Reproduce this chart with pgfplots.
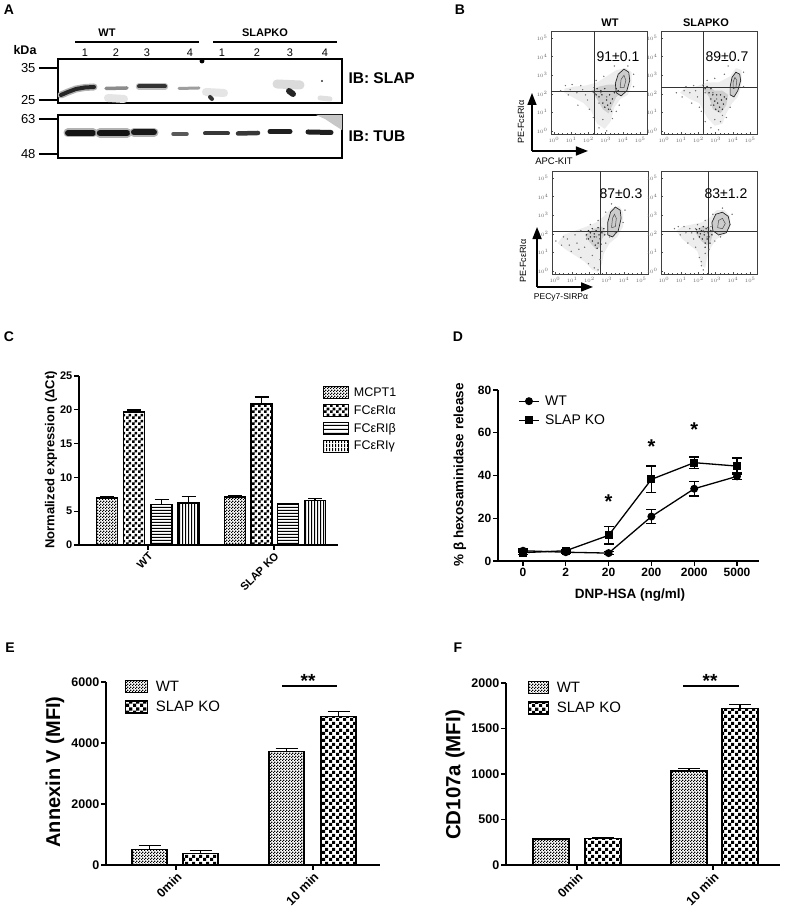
\documentclass[border=0pt]{standalone}
\usepackage{fontspec}
\setmainfont{Liberation Sans}
\usepackage{pgfplots}
\pgfplotsset{compat=1.18}
\usetikzlibrary{patterns,arrows.meta}
\newcommand{\fs}[1]{\fontsize{#1}{#1}\selectfont}

\pgfdeclarepatternformonly{finecheck}{\pgfpointorigin}{\pgfpoint{3pt}{3pt}}{\pgfpoint{3pt}{3pt}}{%
\pgfpathrectangle{\pgfpointorigin}{\pgfpoint{1.5pt}{1.5pt}}%
\pgfpathrectangle{\pgfpoint{1.5pt}{1.5pt}}{\pgfpoint{1.5pt}{1.5pt}}%
\pgfusepath{fill}}
\pgfdeclarepatternformonly{coarsecheck}{\pgfpointorigin}{\pgfpoint{6pt}{6pt}}{\pgfpoint{6pt}{6pt}}{%
\pgfpathrectangle{\pgfpointorigin}{\pgfpoint{3pt}{3pt}}%
\pgfpathrectangle{\pgfpoint{3pt}{3pt}}{\pgfpoint{3pt}{3pt}}%
\pgfusepath{fill}}
\pgfdeclarepatternformonly{bigcheck}{\pgfpointorigin}{\pgfpoint{7pt}{7pt}}{\pgfpoint{7pt}{7pt}}{%
\pgfpathrectangle{\pgfpointorigin}{\pgfpoint{3.5pt}{3.5pt}}%
\pgfpathrectangle{\pgfpoint{3.5pt}{3.5pt}}{\pgfpoint{3.5pt}{3.5pt}}%
\pgfusepath{fill}}
\pgfdeclarepatternformonly{hstripes}{\pgfpointorigin}{\pgfpoint{3.4pt}{3.4pt}}{\pgfpoint{3.4pt}{3.4pt}}{%
\pgfpathrectangle{\pgfpointorigin}{\pgfpoint{3.4pt}{1.3pt}}\pgfusepath{fill}}
\pgfdeclarepatternformonly{vstripes}{\pgfpointorigin}{\pgfpoint{3.4pt}{3.4pt}}{\pgfpoint{3.4pt}{3.4pt}}{%
\pgfpathrectangle{\pgfpointorigin}{\pgfpoint{1.3pt}{3.4pt}}\pgfusepath{fill}}

\pgfplotsset{
  barax/.style={scale only axis, anchor=south west,
    axis x line=bottom, axis y line=left,
    axis line style={-, line width=1.4pt, black},
    tick align=outside, major tick length=5pt,
    tick style={black, line width=1.3pt},
    ymin=0, clip=false,
    tick label style={font=\bfseries\fs{11.5}},
    yticklabel style={inner sep=1.5pt},
    /pgf/number format/assume math mode=true,
    /pgf/number format/1000 sep={},
    scaled y ticks=false,
    legend cell align=left,
  },
  rotlab/.style={xticklabel style={rotate=45, anchor=north east, inner sep=1pt}},
  barlegend/.style={legend image code/.code={%
      \draw[##1, line width=1.2pt] (0pt,-6pt) rectangle (#1pt,6pt);}},
  bars/.style={draw=black, line width=1.5pt, pattern=#1, pattern color=black, bar shift=0pt,
    /pgfplots/error bars/y dir=plus, /pgfplots/error bars/y explicit,
    /pgfplots/error bars/error bar style={line width=1.3pt, black},
    /pgfplots/error bars/error mark options={rotate=90, mark size=7pt, line width=1.3pt, black}},
  barsE/.style={bars=#1,
    /pgfplots/error bars/error mark options={rotate=90, mark size=11pt, line width=1.3pt, black}},
  flow/.style={scale only axis, anchor=south west, width=96pt, height=103pt,
    xmin=0, xmax=100, ymin=0, ymax=100, clip=false,
    axis line style={black!75, line width=0.8pt},
    xtick={3,21,39,57,75,93}, ytick={3,21,39,57,75,93},
    xticklabels={$10^{0}$,$10^{1}$,$10^{2}$,$10^{3}$,$10^{4}$,$10^{5}$},
    yticklabels={$10^{0}$,$10^{1}$,$10^{2}$,$10^{3}$,$10^{4}$,$10^{5}$},
    xtick pos=left, ytick pos=left,
    tick label style={font=\fs{4}, text=black!60},
    tick align=inside, major tick length=2pt, minor tick num=3, minor tick length=1pt,
    tick style={black!70, line width=0.5pt}},
  cloud/.style={fill=gray!14, draw=none},
  dense/.style={fill=gray!38, draw=none},
  dots/.style={only marks, mark=*, mark size=0.45pt, black!55},
  ddots/.style={only marks, mark=*, mark size=0.5pt, black!80},
  cont/.style={fill=gray!40, draw=black!85, line width=0.7pt},
  inner/.style={draw=black!70, line width=0.5pt},
  quad/.style={black!80, line width=0.9pt},
  farrow/.style={black, line width=1.6pt, -{Triangle[width=9pt,length=12pt]}},
  band/.style={line cap=round, line width=#1},
}

\begin{document}
\begin{tikzpicture}
\useasboundingbox (0,0) rectangle (787pt,917pt);
\fill[white] (0,0) rectangle (787pt,917pt);

% ---------------- panel letters
\node[font=\bfseries\fs{14}] at (9pt,907pt) {A};
\node[font=\bfseries\fs{14}] at (460pt,907pt) {B};
\node[font=\bfseries\fs{14}] at (9pt,580pt) {C};
\node[font=\bfseries\fs{14}] at (458pt,580pt) {D};
\node[font=\bfseries\fs{14}] at (10pt,269pt) {E};
\node[font=\bfseries\fs{14}] at (458pt,269pt) {F};

% ---------------- A: western blot
\node[font=\bfseries\fs{11}] at (107pt,884pt) {WT};
\node[font=\bfseries\fs{11}] at (265pt,884pt) {SLAPKO};
\node[font=\bfseries\fs{12.5}] at (25pt,867pt) {kDa};
\foreach \x/\l in {85/1,116/2,147/3,190/4,222/1,257/2,290/3,325/4}
  \node[font=\fs{11}] at (\x pt,864pt) {\l};
\node[font=\bfseries\fs{15.5}, anchor=west] at (345pt,839pt) {IB: SLAP};
\node[font=\bfseries\fs{15.5}, anchor=west] at (345pt,781pt) {IB: TUB};

\begin{axis}[at={(58pt,814pt)}, anchor=south west, scale only axis,
  width=284pt, height=44pt, xmin=58, xmax=342, ymin=-103, ymax=-59,
  axis line style={line width=2.6pt}, xtick=\empty,
  ytick={-100,-68}, yticklabels={25,35}, ytick pos=left,
  tick align=outside, major tick length=19pt,
  tick style={black, line width=1.3pt},
  tick label style={font=\fs{13}}, clip=false]
\addplot[black, line width=1.2pt] coordinates {(75,-42) (199,-42)};
\addplot[black, line width=1.2pt] coordinates {(213,-42) (337,-42)};
% faint smears
\addplot[band=8pt, black!10] coordinates {(108,-98) (124,-99)};
\addplot[band=8pt, black!10] coordinates {(206,-92) (224,-93)};
\addplot[band=9pt, black!14] coordinates {(277,-84) (300,-85)};
\addplot[band=5pt, black!12] coordinates {(320,-98) (330,-99)};
% SLAP bands
\addplot[band=7pt, black!30] coordinates {(61,-95) (68,-92) (76,-89) (85,-87.5) (94,-87)};
\addplot[band=4pt, black!85] coordinates {(61,-95) (68,-92) (76,-89) (85,-87.5) (94,-87)};
\addplot[band=3.5pt, black!45] coordinates {(106,-88.5) (127,-88)};
\addplot[band=6.5pt, black!25] coordinates {(139,-86.5) (165,-86.5)};
\addplot[band=4pt, black!80] coordinates {(139,-86.5) (165,-86.5)};
\addplot[band=3pt, black!38] coordinates {(179,-88.5) (199,-88)};
\addplot[band=4pt, black!80] coordinates {(210,-97) (212,-99)};
\addplot[band=6pt, black!85] coordinates {(289,-91) (293,-94)};
\addplot[only marks, mark=*, mark size=0.8pt, black!70] coordinates {(322,-81)};
\addplot[only marks, mark=*, mark size=2.2pt, black] coordinates {(202,-61)};
\end{axis}

\begin{axis}[at={(58pt,759pt)}, anchor=south west, scale only axis,
  width=284pt, height=43pt, xmin=58, xmax=342, ymin=-158, ymax=-115,
  axis line style={line width=2.6pt}, xtick=\empty,
  ytick={-154,-119}, yticklabels={48,63}, ytick pos=left,
  tick align=outside, major tick length=19pt,
  tick style={black, line width=1.3pt},
  tick label style={font=\fs{13}}, clip=false]
\addplot[fill=black!22, draw=none] coordinates {(316,-115) (342,-115) (342,-130) (334,-125) (325,-119)};
\addplot[band=9pt, black!30] coordinates {(68,-133) (93,-133)};
\addplot[band=6pt, black!92] coordinates {(68,-133) (93,-133)};
\addplot[band=9.5pt, black!30] coordinates {(100,-133) (127,-133)};
\addplot[band=6.5pt, black!92] coordinates {(100,-133) (127,-133)};
\addplot[band=9pt, black!30] coordinates {(134,-132.5) (154,-132.5)};
\addplot[band=6pt, black!90] coordinates {(134,-132.5) (154,-132.5)};
\addplot[band=3.5pt, black!65] coordinates {(173,-134) (187,-134)};
\addplot[band=4pt, black!78] coordinates {(205,-133.5) (228,-133.5)};
\addplot[band=4.5pt, black!78] coordinates {(238,-133.5) (258,-133)};
\addplot[band=5pt, black!88] coordinates {(270,-131.5) (290,-131.5)};
\addplot[band=5pt, black!88] coordinates {(308,-132) (331,-132.5)};
\end{axis}

% ---------------- B: flow cytometry
\node[font=\bfseries\fs{11}] at (610pt,894pt) {WT};
\node[font=\bfseries\fs{11}] at (706pt,894pt) {SLAPKO};

% top-left
\begin{axis}[flow, at={(551pt,783pt)}]
\addplot[cloud] coordinates {(14,40) (24,35) (34,30) (42,22) (48,10) (56,5) (62,12) (66,26) (72,34) (80,38) (84,48) (84,60) (78,64) (68,62) (58,56) (48,50) (36,47) (24,46) (14,44)};
\addplot[dense] coordinates {(42,42) (48,34) (54,24) (60,20) (64,28) (68,36) (74,40) (70,48) (60,48) (50,46)};
\addplot[dots] coordinates {(10,42) (18,38) (22,48) (28,28) (33,43) (38,33) (44,16) (50,6) (54,14) (58,3) (62,24) (27,40) (31,47) (47,52) (55,56) (66,66) (86,46) (86,58) (40,24) (58,36) (50,30) (71,28) (46,39) (20,43) (15,47) (36,38) (64,15) (68,22) (52,40) (80,66)};
\addplot[ddots] coordinates {(44,41) (47,38) (50,36) (52,42) (54,30) (56,26) (58,33) (60,24) (61,38) (62,30) (64,34) (66,40) (68,44) (56,44) (48,44) (59,28) (63,22) (53,38) (45,45) (70,42)};
\addplot[cont] coordinates {(68,40) (73,37) (79,42) (82,52) (81,60) (76,63) (70,58) (67,49) (68,40)};
\addplot[inner] coordinates {(72,45) (76,45) (78,52) (76,57) (73,53) (72,45)};
\addplot[quad] coordinates {(44.8,0) (44.8,100)};
\addplot[quad] coordinates {(0,41.7) (100,41.7)};
\addplot[farrow] coordinates {(-19.8,-16.5) (-19.8,39.8)};
\addplot[farrow] coordinates {(-19.8,-16.5) (38.5,-16.5)};
\end{axis}
\node[font=\fs{14}] at (618pt,860pt) {91±0.1};
\node[font=\fs{9}, rotate=90] at (521pt,795pt) {PE-FcεRIα};
\node[font=\fs{9.5}] at (554pt,756pt) {APC-KIT};

% top-right
\begin{axis}[flow, at={(661pt,783pt)}]
\addplot[cloud] coordinates {(20,40) (30,34) (40,30) (48,16) (56,8) (64,10) (68,20) (74,30) (80,36) (84,48) (84,62) (78,64) (72,56) (60,50) (48,50) (36,46) (24,44)};
\addplot[dense] coordinates {(44,44) (50,36) (54,24) (62,20) (68,28) (70,38) (64,42) (56,42) (50,46)};
\addplot[dots] coordinates {(16,40) (22,36) (26,46) (32,30) (36,42) (40,26) (46,12) (52,6) (56,14) (60,4) (64,18) (30,40) (34,47) (48,52) (56,54) (70,66) (86,46) (86,60) (42,22) (58,34) (52,28) (72,26) (46,40) (24,42) (62,12) (68,16) (54,40) (66,58) (44,48) (38,36)};
\addplot[ddots] coordinates {(46,44) (50,40) (52,34) (55,28) (57,24) (59,30) (61,26) (63,33) (65,29) (66,36) (58,38) (54,38) (62,38) (48,46) (44,47) (60,22) (64,24) (56,32) (68,34) (52,44)};
\addplot[cont] coordinates {(72,38) (76,36) (80,42) (83,52) (82,58) (78,60) (74,55) (72,46) (72,38)};
\addplot[inner] coordinates {(75,44) (78,45) (79,52) (77,55) (75,50) (75,44)};
\addplot[quad] coordinates {(43.8,0) (43.8,100)};
\addplot[quad] coordinates {(0,44.7) (100,44.7)};
\end{axis}
\node[font=\fs{14}] at (727pt,860pt) {89±0.7};

% bottom-left
\begin{axis}[flow, at={(552pt,643pt)}]
\addplot[cloud] coordinates {(6,30) (14,24) (24,18) (34,12) (42,4) (48,2) (52,10) (54,20) (60,30) (68,36) (74,46) (74,60) (70,66) (62,64) (54,56) (46,50) (36,46) (24,42) (12,38)};
\addplot[dense] coordinates {(34,38) (40,30) (46,24) (50,26) (52,34) (56,40) (52,46) (44,44)};
\addplot[dots] coordinates {(4,32) (10,28) (16,34) (20,22) (26,30) (30,16) (34,26) (38,10) (42,18) (44,6) (48,4) (50,14) (24,38) (30,42) (40,48) (48,52) (56,60) (62,68) (74,50) (76,62) (36,34) (56,30) (60,36) (46,36) (18,28) (12,36) (40,40) (52,22) (28,24) (66,40)};
\addplot[ddots] coordinates {(36,38) (38,34) (40,40) (42,32) (44,36) (45,28) (46,42) (48,30) (49,38) (50,34) (52,40) (54,44) (42,44) (38,42) (47,25) (51,29) (55,38) (44,39) (40,36) (48,45)};
\addplot[cont] coordinates {(58,38) (63,36) (69,42) (72,54) (71,62) (66,65) (61,60) (58,50) (58,38)};
\addplot[inner] coordinates {(62,45) (66,46) (67,54) (65,58) (63,54) (62,45)};
\addplot[quad] coordinates {(50,0) (50,100)};
\addplot[quad] coordinates {(0,41.7) (100,41.7)};
\addplot[farrow] coordinates {(-15.6,-12.6) (-15.6,45.6)};
\addplot[farrow] coordinates {(-15.6,-12.6) (42.7,-12.6)};
\end{axis}
\node[font=\fs{14}] at (621pt,723pt) {87±0.3};
\node[font=\fs{9}, rotate=90] at (523pt,656pt) {PE-FcεRIα};
\node[font=\fs{8.5}] at (561pt,620pt) {PECy7-SIRPα};

% bottom-right
\begin{axis}[flow, at={(661pt,643pt)}]
\addplot[cloud] coordinates {(16,42) (22,34) (30,28) (38,22) (42,8) (46,6) (48,16) (52,26) (58,34) (66,38) (72,44) (72,56) (66,62) (58,62) (50,54) (42,50) (32,48) (22,46)};
\addplot[dense] coordinates {(36,40) (42,32) (48,28) (52,32) (54,40) (50,46) (42,46)};
\addplot[dots] coordinates {(14,44) (20,38) (24,46) (28,30) (32,40) (36,26) (40,16) (42,8) (42,12) (44,4) (46,20) (30,44) (38,48) (46,52) (54,58) (64,64) (72,48) (74,58) (40,36) (56,32) (60,38) (48,36) (26,40) (18,46) (34,34) (50,24) (62,36) (44,42) (36,44) (52,46)};
\addplot[ddots] coordinates {(38,40) (40,36) (42,42) (43,34) (45,38) (46,30) (47,44) (48,34) (49,40) (50,36) (51,30) (52,42) (44,46) (40,44) (46,26) (53,38) (37,43) (45,41) (49,45) (41,39)};
\addplot[cont] coordinates {(54,42) (60,38) (68,40) (72,48) (70,56) (64,60) (57,58) (53,50) (54,42)};
\addplot[inner] coordinates {(59,45) (64,44) (67,49) (64,54) (60,52) (59,45)};
\addplot[quad] coordinates {(49,0) (49,100)};
\addplot[quad] coordinates {(0,41.7) (100,41.7)};
\end{axis}
\node[font=\fs{14}] at (726pt,723pt) {83±1.2};

% ---------------- C: qPCR bars
\begin{axis}[barax, rotlab, ybar, barlegend=25,
  at={(79pt,372pt)}, width=259pt, height=169pt,
  xmin=79, xmax=338, ymax=25, ytick={0,5,...,25},
  xtick={148,274}, xticklabels={WT,SLAP KO}, bar width=21,
  tick label style={font=\bfseries\fs{11}},
  every axis y label/.style={at={(axis description cs:-0.108,0.503)}, rotate=90, anchor=center, font=\bfseries\fs{13}},
  ylabel={Normalized expression (ΔCt)},
  legend style={draw=none, fill=none, at={(0.942,0.941)}, anchor=north west,
    font=\fs{12.5}, row sep=4.5pt, column sep=3pt, inner sep=0pt, nodes={inner sep=1.5pt}},
  legend entries={MCPT1, FCεRIα, FCεRIβ, FCεRIγ}]
\addplot[bars=finecheck] coordinates {(107,6.95) +- (0,0.2) (235,7.1) +- (0,0.15)};
\addplot[bars=coarsecheck] coordinates {(134,19.65) +- (0,0.3) (261.5,20.85) +- (0,1.05)};
\addplot[bars=hstripes] coordinates {(161.5,6.0) +- (0,0.7) (288,6.05) +- (0,0.12)};
\addplot[bars=vstripes] coordinates {(188.5,6.2) +- (0,1.0) (315,6.6) +- (0,0.3)};
\end{axis}

% ---------------- D: hexosaminidase release
\begin{axis}[barax, at={(498pt,356pt)}, width=261pt, height=171pt,
  xmin=-0.584, xmax=5.514, ymax=80, ytick={0,20,...,80},
  xtick={0,...,5}, xticklabels={0,2,20,200,2000,5000},
  tick label style={font=\bfseries\fs{12}},
  xticklabel style={anchor=north, inner sep=2pt},
  every axis y label/.style={at={(axis description cs:-0.146,0.503)}, rotate=90, anchor=center, font=\bfseries\fs{13.5}},
  every axis x label/.style={at={(axis description cs:0.506,-0.199)}, anchor=center, font=\bfseries\fs{13.5}},
  ylabel={\% β hexosaminidase release}, xlabel={DNP-HSA (ng/ml)},
  legend image code/.code={\draw[mark repeat=2,mark phase=2,#1] plot coordinates {(0pt,0pt) (10pt,0pt) (20pt,0pt)};},
  legend style={draw=none, fill=none, at={(0.077,0.977)}, anchor=north west,
    font=\fs{14}, row sep=5pt, column sep=4pt, inner sep=0pt, nodes={inner sep=1.5pt}},
  legend entries={WT, SLAP KO}]
\addplot[black, line width=1.3pt, mark=*, mark size=3.3pt, mark options={solid},
  error bars/.cd, y dir=both, y explicit, error bar style={line width=1.3pt},
  error mark options={rotate=90, mark size=5pt, line width=1.3pt}]
  coordinates {(0,4.8) +- (0,0.8) (1,4.1) +- (0,0.6) (2,3.7) +- (0,0.6) (3,20.8) +- (0,3.2) (4,33.8) +- (0,3.4) (5,39.6) +- (0,1.5)};
\addplot[black, line width=1.3pt, mark=square*, mark size=3.3pt, mark options={solid},
  error bars/.cd, y dir=both, y explicit, error bar style={line width=1.3pt},
  error mark options={rotate=90, mark size=5pt, line width=1.3pt}]
  coordinates {(0,3.9) +- (0,0.8) (1,4.8) +- (0,0.7) (2,12.0) +- (0,4.1) (3,38.2) +- (0,6.3) (4,46.0) +- (0,2.6) (5,44.4) +- (0,3.8)};
\node[font=\bfseries\fs{20}, yshift=-3pt] at (axis cs:2,29.3) {*};
\node[font=\bfseries\fs{20}, yshift=-3pt] at (axis cs:3,55) {*};
\node[font=\bfseries\fs{20}, yshift=-3pt] at (axis cs:4,62.9) {*};
\end{axis}

% ---------------- E: Annexin V
\begin{axis}[barax, rotlab, ybar, barlegend=22,
  at={(106pt,52pt)}, width=274pt, height=183pt,
  xmin=106, xmax=380, ymax=6000, ytick={0,2000,4000,6000},
  xtick={176,313}, xticklabels={0min,10 min}, bar width=35,
  tick label style={font=\bfseries\fs{12.5}},
  every axis y label/.style={at={(axis description cs:-0.186,0.508)}, rotate=90, anchor=center, font=\bfseries\fs{20}},
  ylabel={Annexin V (MFI)},
  legend style={draw=none, fill=none, at={(0.069,1.016)}, anchor=north west,
    font=\fs{15}, row sep=5.5pt, column sep=6pt, inner sep=0pt, nodes={inner sep=1.5pt}},
  legend entries={WT, SLAP KO}]
\addplot[barsE=finecheck] coordinates {(149.5,515) +- (0,120) (286.5,3720) +- (0,110)};
\addplot[barsE=bigcheck] coordinates {(200.5,385) +- (0,100) (338.5,4870) +- (0,160)};
\addplot[sharp plot, black, line width=1.8pt, forget plot] coordinates {(282,5869) (337,5869)};
\node[font=\bfseries\fs{19}, yshift=-3pt] at (axis cs:308,6131) {**};
\end{axis}

% ---------------- F: CD107a
\begin{axis}[barax, rotlab, ybar, barlegend=20,
  at={(506pt,52pt)}, width=274pt, height=182pt,
  xmin=506, xmax=780, ymax=2000, ytick={0,500,...,2000},
  xtick={577,713}, xticklabels={0min,10 min}, bar width=36,
  tick label style={font=\bfseries\fs{12.5}},
  every axis y label/.style={at={(axis description cs:-0.186,0.495)}, rotate=90, anchor=center, font=\bfseries\fs{20.5}},
  ylabel={CD107a (MFI)},
  legend style={draw=none, fill=none, at={(0.080,1.016)}, anchor=north west,
    font=\fs{15}, row sep=5.5pt, column sep=6pt, inner sep=0pt, nodes={inner sep=1.5pt}},
  legend entries={WT, SLAP KO}]
\addplot[barsE=finecheck] coordinates {(551,285) +- (0,8) (689,1035) +- (0,25)};
\addplot[barsE=bigcheck] coordinates {(603,289) +- (0,8) (740,1718) +- (0,45)};
\addplot[sharp plot, black, line width=1.8pt, forget plot] coordinates {(683,1967) (739,1967)};
\node[font=\bfseries\fs{19}, yshift=-3pt] at (axis cs:710,2055) {**};
\end{axis}

\end{tikzpicture}
\end{document}
